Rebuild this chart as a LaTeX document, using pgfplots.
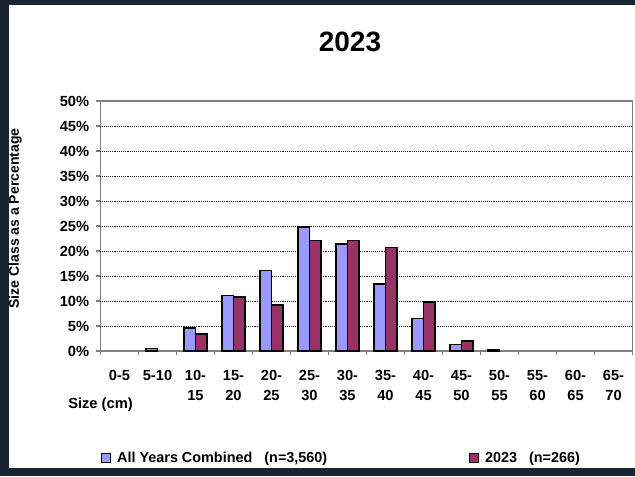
\documentclass[border=0pt]{standalone}
\usepackage{pgfplots}
\pgfplotsset{compat=1.18}
\usepackage{fontspec}
\setmainfont{Liberation Sans}

\definecolor{allyears}{HTML}{9999FF}
\definecolor{yrcur}{HTML}{993366}
\definecolor{framegray}{HTML}{808080}
\definecolor{bgdark}{RGB}{24,36,50}

\begin{document}
\begin{tikzpicture}[font=\bfseries]
% dark slide background and white chart area (units: screen px)
\begin{scope}[x=0.75pt,y=0.75pt]
  \fill[bgdark] (-100.5,-125) rectangle (534.5,351);
  \fill[white] (-91.5,-117) rectangle (534.5,346);
\end{scope}
\begin{axis}[
  scale only axis, width=399pt, height=187.5pt,
  ybar=0pt, bar width=8.8pt,
  xmin=-0.5, xmax=13.5, ymin=0, ymax=50,
  xtick={0,...,13},
  xticklabels={0-5,5-10,10-\\15,15-\\20,20-\\25,25-\\30,30-\\35,35-\\40,
    40-\\45,45-\\50,50-\\55,55-\\60,60-\\65,65-\\70},
  major x tick style={draw=none},
  minor xtick={-0.5,0.5,...,13.5},
  ytick={0,5,...,50},
  yticklabels={0\%,5\%,10\%,15\%,20\%,25\%,30\%,35\%,40\%,45\%,50\%},
  extra y ticks={5,10,...,45},
  extra y tick labels={},
  extra y tick style={grid=major, major tick length=0pt},
  grid style={black!85, densely dotted, line width=0.6pt},
  tick align=outside, tick pos=left,
  major tick length=3pt, minor tick length=3pt,
  axis line style={draw=framegray, line width=0.8pt},
  every tick/.style={framegray, line width=0.8pt},
  tick label style={font=\fontsize{11}{15}\selectfont\bfseries},
  xticklabel style={align=center, yshift=-8pt},
  yticklabel style={xshift=-2pt},
  title={2023},
  title style={at={(axis description cs:0.469,1)}, anchor=center, yshift=38.5pt,
    font=\fontsize{21}{25}\selectfont\bfseries},
  xlabel={Size (cm)},
  xlabel style={at={(axis description cs:0,0)}, anchor=center, yshift=-40pt,
    font=\fontsize{11}{15}\selectfont\bfseries},
  ylabel={Size Class as a Percentage},
  ylabel style={at={(axis description cs:-0.16,0.53)}, anchor=center,
    font=\fontsize{10.5}{13}\selectfont\bfseries},
  legend columns=2, legend cell align=left,
  legend style={at={(axis description cs:0.001,-0.428)}, anchor=west,
    draw=none, fill=none, inner sep=0pt,
    nodes={inner sep=0pt, font=\fontsize{10.8}{15}\selectfont\bfseries},
    /tikz/every even column/.append style={column sep=106.5pt}},
  every axis plot post/.append style={
    legend image code/.code={
      \draw[#1, line width=0.6pt] (0pt,-3.4pt) rectangle (6.75pt,3.4pt);
      \path (11pt,0pt);}},
]
\addplot[fill=allyears, draw=black, line width=1.2pt] coordinates {
  (1,0.5) (2,4.6) (3,11.1) (4,16.1) (5,24.8) (6,21.4) (7,13.4)
  (8,6.5) (9,1.3) (10,0.2)};
\addlegendentry{All Years Combined~~~(n=3,560)}
\addplot[fill=yrcur, draw=black, line width=1.2pt] coordinates {
  (2,3.4) (3,10.8) (4,9.2) (5,22.1) (6,22.1) (7,20.7)
  (8,9.8) (9,2.0)};
\addlegendentry{2023~~~(n=266)}
\end{axis}
\pgfresetboundingbox
\path[x=0.75pt,y=0.75pt] (-100.5,-125) rectangle (534.5,351);
\end{tikzpicture}
\end{document}
